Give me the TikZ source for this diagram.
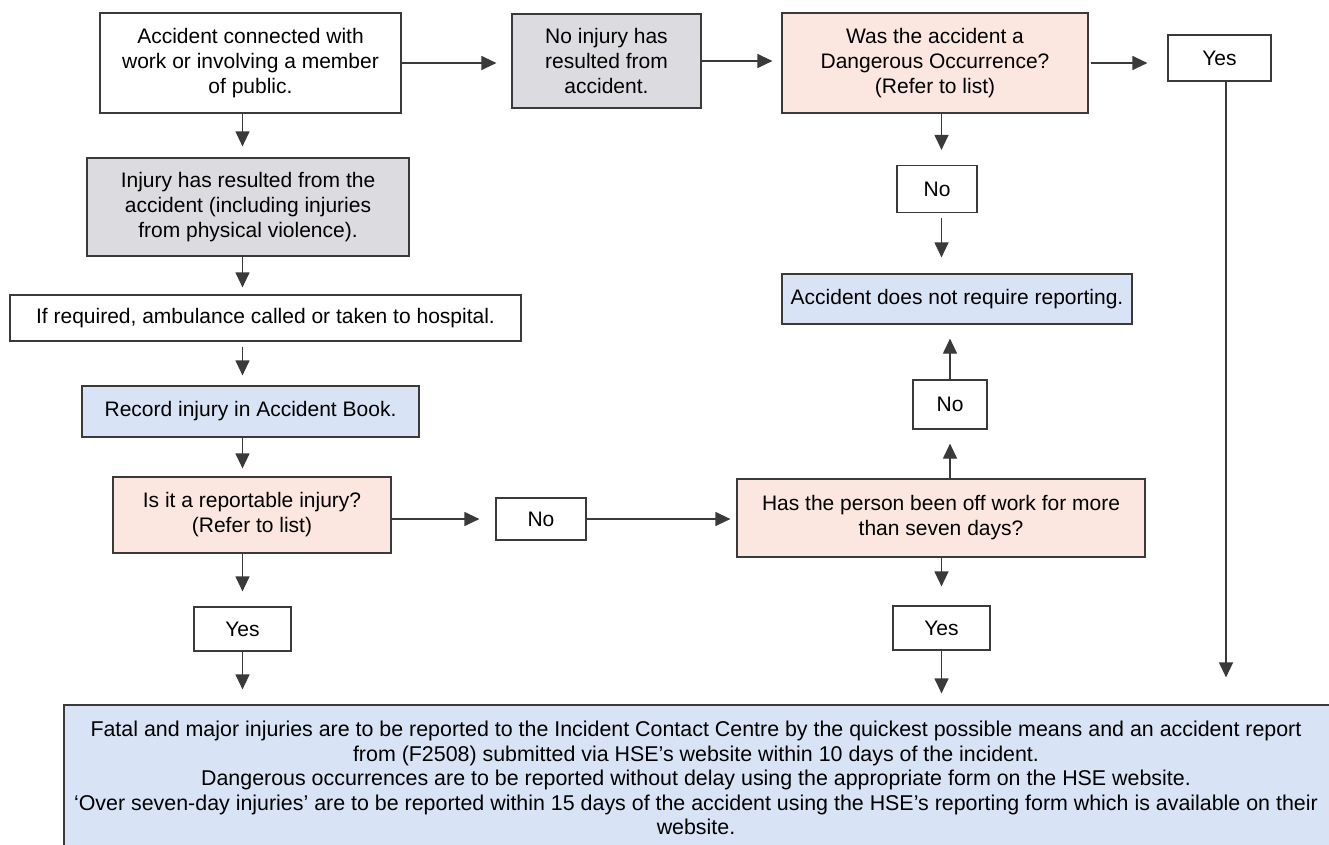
\documentclass[tikz,border=0pt]{standalone}
\usepackage{fontspec}
\setmainfont{Liberation Sans}
\usetikzlibrary{arrows.meta}
\definecolor{linec}{HTML}{3A3A3A}
\definecolor{grayf}{HTML}{DCDCE0}
\definecolor{pinkf}{HTML}{FBE6E0}
\definecolor{bluef}{HTML}{D9E3F6}
\begin{document}
\begin{tikzpicture}[x=1pt,y=-1pt,
  box/.style={draw=linec, line width=1.2pt, inner sep=0pt, align=center,
    font=\fontsize{21}{25}\selectfont},
  arr/.style={draw=linec, line width=1.2pt, -{Triangle[length=15pt,width=14pt]}},
  txt/.style={inner sep=0pt, align=center, font=\fontsize{21.4}{24.5}\selectfont}
]
\useasboundingbox (0,0) rectangle (1329,844);
\clip (0,0) rectangle (1329,844);
\fill[white] (0,0) rectangle (1329,844);

% left column
\node[box, minimum width=301pt, minimum height=100pt] (A) at (250.5,63)
  {Accident connected with\\work or involving a member\\of public.};
\node[box, fill=grayf, minimum width=322pt, minimum height=98pt] (D) at (248,207)
  {Injury has resulted from the\\accident (including injuries\\from physical violence).};
\node[box, minimum width=511pt, minimum height=46pt] (E) at (265.5,318)
  {If required, ambulance called or taken to hospital.};
\node[box, fill=bluef, minimum width=337pt, minimum height=51pt] (F) at (250.5,411.5)
  {Record injury in Accident Book.};
\node[box, fill=pinkf, minimum width=278pt, minimum height=76pt] (G) at (252,515)
  {Is it a reportable injury?\\(Refer to list)};
\node[box, minimum width=97pt, minimum height=44pt] (yesL) at (242.5,629) {Yes};

% middle / right
\node[box, fill=grayf, minimum width=189pt, minimum height=94pt] (B) at (606.5,61)
  {No injury has\\resulted from\\accident.};
\node[box, fill=pinkf, minimum width=306pt, minimum height=100pt] (C) at (935,63)
  {Was the accident a\\Dangerous Occurrence?\\(Refer to list)};
\node[box, minimum width=103pt, minimum height=46pt] (Y1) at (1219.5,58) {Yes};
\node[box, minimum width=80pt, minimum height=47pt] (noU) at (937,189) {No};
\node[box, fill=bluef, minimum width=350pt, minimum height=50pt] (NR) at (957,299)
  {Accident does not require reporting.};
\node[box, minimum width=74pt, minimum height=49pt] (noL) at (950,404.5) {No};
\node[box, minimum width=90pt, minimum height=42pt] (noM) at (541,519) {No};
\node[box, fill=pinkf, minimum width=408pt, minimum height=78pt] (H) at (941,518)
  {Has the person been off work for more\\than seven days?};
\node[box, minimum width=97pt, minimum height=44pt] (yesR) at (941.5,628) {Yes};

% bottom box
\node[box, fill=bluef, minimum width=1281pt, minimum height=155pt] (bot) at (704.5,782.5) {};
\node[txt] (botT) at (696,778)
  {Fatal and major injuries are to be reported to the Incident Contact Centre by the quickest possible means and an accident report\\
   from (F2508) submitted via HSE’s website within 10 days of the incident.\\
   Dangerous occurrences are to be reported without delay using the appropriate form on the HSE website.\\
   ‘Over seven-day injuries’ are to be reported within 15 days of the accident using the HSE’s reporting form which is available on their\\
   website.};

% connectors
\draw[arr, shorten >=15pt] (A.east) -- (A.east -| B.west);
\draw[arr, shorten >=9pt] (B.east) -- (B.east -| C.west);
\draw[arr, shorten <=2pt, shorten >=20pt] (C.east) -- (C.east -| Y1.west);
\draw[arr, shorten >=27pt] ([xshift=6.5pt]Y1.south) -- ([xshift=6.5pt]Y1.south |- bot.north);

\draw[arr, shorten >=11pt] (A.south -| yesL) -- (D.north -| yesL);
\draw[arr, shorten >=7pt] (D.south -| yesL) -- (E.north -| yesL);
\draw[arr, shorten <=5pt, shorten >=10pt] (E.south -| yesL) -- (F.north -| yesL);
\draw[arr, shorten >=8pt] (F.south -| yesL) -- (G.north -| yesL);
\draw[arr, shorten >=15pt] (G.south -| yesL) -- (yesL.north);
\draw[arr, shorten >=15pt] (yesL.south) -- (yesL.south |- bot.north);

\draw[arr, shorten >=16pt] (G.east |- noM) -- (noM.west);
\draw[arr, shorten >=6pt] (noM.east) -- (noM.east -| H.west);
\draw[arr, shorten >=19pt] (H.south -| yesR) -- (yesR.north);
\draw[arr, shorten >=11pt] (yesR.south) -- (yesR.south |- bot.north);
\draw[arr, shorten >=14pt] (H.north -| noL) -- (noL.south);
\draw[arr, shorten >=14pt] (noL.north) -- (noL.north |- NR.south);
\draw[arr, shorten >=15pt] (C.south -| yesR) -- (noU.north -| yesR);
\draw[arr, shorten <=5pt, shorten >=16pt] (noU.south -| yesR) -- (NR.north -| yesR);
\end{tikzpicture}
\end{document}
